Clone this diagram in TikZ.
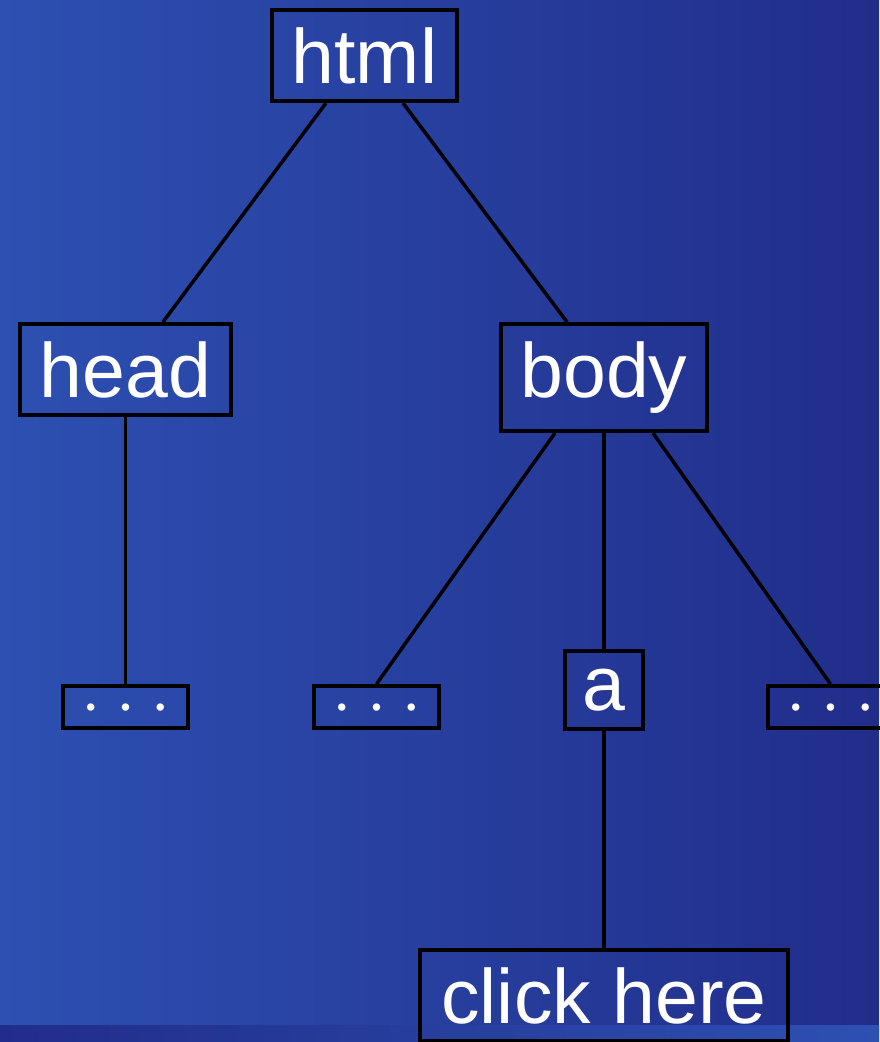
\documentclass[tikz,border=0pt]{standalone}
\usepackage{fontspec}
\setmainfont{Liberation Sans}
\definecolor{bgL}{RGB}{45,80,178}
\definecolor{bgR}{RGB}{33,45,138}
\newcommand{\threedots}{\raisebox{-9.5pt}{•\kern25.3pt•\kern25.3pt•}}
\begin{document}
\begin{tikzpicture}[x=1pt,y=-1pt,
  tbox/.style={draw=black, line width=4pt, inner sep=0pt, text=white,
    font=\fontsize{77}{77}\selectfont, text height=55pt, text depth=0pt},
  dbox/.style={draw=black, line width=4pt, inner sep=0pt, text=white,
    font=\fontsize{27}{27}\selectfont, minimum width=125pt, minimum height=42pt,
    text height=0pt, text depth=0pt},
  conn/.style={draw=black, line width=3.5pt}]
\useasboundingbox (0,0) rectangle (879,1042);
\shade[left color=bgL, right color=bgR] (0,0) rectangle (879,1042);
\shade[left color=bgR, right color=bgL] (0,1025) rectangle (879,1042);

\node[tbox, minimum width=185pt, minimum height=91pt] (html) at (364.5,55.5) {html};
\node[tbox, minimum width=211pt, minimum height=91pt] (head) at (125.5,369.5) {head};
\node[tbox, minimum width=206pt, minimum height=107pt, text depth=16pt] (body) at (604,377.5) {body};
\node[dbox] (d1) at (125.5,707) {\threedots};
\node[dbox] (d2) at (376.5,707) {\threedots};
\node[dbox] (d3) at (830.5,707) {\threedots};
\node[tbox, minimum width=78pt, minimum height=78pt, text height=41pt] (a) at (604,690) {a};
\node[tbox, minimum width=368pt, minimum height=91pt] (click) at (604,995.5) {click here};

\draw[conn] ([xshift=-38.5pt]html.south) -- ([xshift=37.5pt]head.north);
\draw[conn] ([xshift=38.5pt]html.south) -- ([xshift=-37pt]body.north);
\draw[conn] (head.south) -- (d1.north);
\draw[conn] ([xshift=-49pt]body.south) -- (d2.north);
\draw[conn] (body.south) -- (a.north);
\draw[conn] ([xshift=49pt]body.south) -- (d3.north);
\draw[conn] (a.south) -- (click.north);
\end{tikzpicture}
\end{document}
